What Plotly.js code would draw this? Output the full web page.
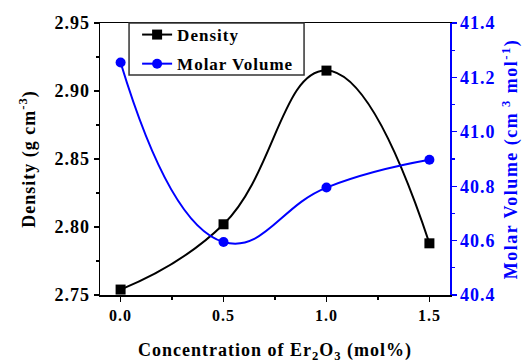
<!DOCTYPE html>
<html><head><meta charset="utf-8">
<script src="https://cdn.plot.ly/plotly-3.0.1.min.js"></script>
<style>body{margin:0;padding:0;background:#fff}#chart{width:531px;height:363px}
svg text{letter-spacing:1px}
.g-y2title text{letter-spacing:1.5px}</style>
</head><body><div id="chart"></div>
<script>
var concentration = [0.0, 0.5, 1.0, 1.5];
var density = [2.754, 2.802, 2.915, 2.788];
var molarVolume = [41.255, 40.595, 40.795, 40.897];
var xTicks = [0.0, 0.5, 1.0, 1.5];
var xTickLabels = ['0.0', '0.5', '1.0', '1.5'];

var F = 'Liberation Serif, Times New Roman, serif';
var traces = [
  {x: concentration, y: density, name: 'Density', type: 'scatter', mode: 'lines+markers', legendgroup: 'a',
   line: {color: '#000', width: 2, shape: 'spline', smoothing: 1.3},
   marker: {symbol: 'square', size: 10, color: '#000'}},
  {x: concentration, y: molarVolume, name: 'Molar Volume', type: 'scatter', mode: 'lines+markers', yaxis: 'y2', legendgroup: 'b',
   line: {color: '#0000ff', width: 2, shape: 'spline', smoothing: 1.3},
   marker: {symbol: 'circle', size: 10, color: '#0000ff'}}
];
var layout = {
  width: 531, height: 363,
  margin: {l: 100, r: 81, t: 23, b: 68},
  paper_bgcolor: '#fff', plot_bgcolor: '#fff',
  font: {family: F, size: 16, color: '#000'},
  showlegend: true,
  legend: {x: 0.106, y: 1.022, xanchor: 'left', yanchor: 'top', borderwidth: 0,
           bgcolor: 'rgba(0,0,0,0)', font: {family: F, size: 17, color: '#000', weight: 'bold'},
           traceorder: 'grouped', tracegroupgap: 4, itemwidth: 30},
  shapes: [{type: 'rect', xref: 'paper', yref: 'paper', x0: 0.083, x1: 0.583, y0: 0.809, y1: 1,
            line: {color: '#333', width: 1.5}, fillcolor: 'rgba(0,0,0,0)', layer: 'above'}],
  xaxis: {range: [-0.1, 1.6], tickvals: xTicks, ticktext: xTickLabels,
          showline: true, linecolor: '#000', linewidth: 1.5, ticks: 'outside', ticklen: 5, tickwidth: 1.2, tickcolor: '#000',
          minor: {dtick: 0.25, tick0: 0, ticks: 'outside', ticklen: 3, tickcolor: '#000', showgrid: false},
          showgrid: false, zeroline: false, mirror: true,
          tickfont: {family: F, size: 16, weight: 'bold'},
          title: {text: 'Concentration of Er<sub>2</sub>O<sub>3</sub> (mol%)', font: {family: F, size: 18, weight: 'bold'}, standoff: 22}},
  xaxis2: {overlaying: 'x', side: 'top', range: [-0.1, 1.6], tickvals: xTicks, showticklabels: false,
           ticks: 'inside', ticklen: 4, tickcolor: '#000', tickwidth: 1.2, showgrid: false, zeroline: false, showline: false,
           minor: {dtick: 0.25, tick0: 0, ticks: 'inside', ticklen: 3, tickcolor: '#000'}},
  yaxis: {range: [2.75, 2.95], dtick: 0.05, tickformat: '.2f',
          showline: true, linecolor: '#000', linewidth: 1.5, ticks: 'outside', ticklen: 5, tickwidth: 1.2, tickcolor: '#000',
          minor: {dtick: 0.025, ticks: 'outside', ticklen: 3, tickcolor: '#000', showgrid: false},
          showgrid: false, zeroline: false,
          tickfont: {family: F, size: 18, weight: 'bold'},
          title: {text: 'Density (g cm<sup>-3</sup>)', font: {family: F, size: 18, weight: 'bold'}, standoff: 14}},
  yaxis2: {overlaying: 'y', side: 'right', range: [40.4, 41.4], dtick: 0.2, tickformat: '.1f',
           showline: true, linecolor: '#0000ff', linewidth: 1.5, ticks: 'outside', ticklen: 5, tickwidth: 1.2, tickcolor: '#0000ff',
           minor: {dtick: 0.1, ticks: 'outside', ticklen: 3, tickcolor: '#0000ff', showgrid: false},
           showgrid: false, zeroline: false,
           tickfont: {family: F, size: 18, weight: 'bold', color: '#0000ff'},
           title: {text: 'Molar Volume (cm<sup>&nbsp;3</sup>&nbsp;mol<sup>-1</sup>)', font: {family: F, size: 18, weight: 'bold', color: '#0000ff'}, standoff: 10}}
};
Plotly.newPlot('chart', traces, layout, {displayModeBar: false, staticPlot: true});
</script></body></html>
